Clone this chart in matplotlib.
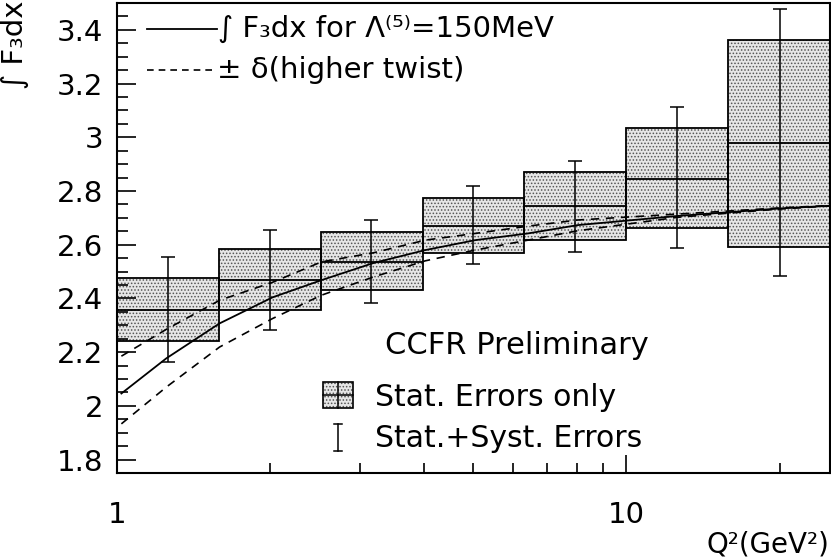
import matplotlib
matplotlib.use("Agg")
import matplotlib.pyplot as plt
import numpy as np
from matplotlib.patches import Rectangle
from matplotlib.ticker import FixedLocator, NullFormatter, FixedFormatter, MultipleLocator

# ---------------- data ----------------
bin_edges = [1.0, 1.585, 2.512, 3.981, 6.310, 10.0, 15.85, 25.12]
bin_centers = [1.26, 2.0, 3.16, 5.0, 7.94, 12.6, 20.0]
f3_value = [2.356, 2.470, 2.534, 2.671, 2.745, 2.845, 2.978]
stat_lo = [2.240, 2.358, 2.430, 2.571, 2.617, 2.661, 2.592]
stat_hi = [2.476, 2.585, 2.649, 2.775, 2.870, 3.034, 3.363]
tot_lo = [2.163, 2.284, 2.383, 2.529, 2.574, 2.586, 2.483]
tot_hi = [2.555, 2.655, 2.692, 2.820, 2.913, 3.112, 3.478]

q_curve = [1.02, 1.25, 1.59, 2.02, 2.52, 3.19, 4.03, 5.05, 6.41, 8.03, 12.6, 20.0, 25.1]
theory = [2.046, 2.177, 2.307, 2.404, 2.468, 2.532, 2.580, 2.617, 2.642, 2.673, 2.707, 2.735, 2.745]
theory_up = [2.185, 2.285, 2.393, 2.460, 2.536, 2.570, 2.617, 2.642, 2.669, 2.692, 2.714, 2.737, 2.746]
theory_dn = [1.933, 2.070, 2.219, 2.325, 2.412, 2.480, 2.540, 2.580, 2.617, 2.652, 2.702, 2.733, 2.744]

x_ticks_major = [1, 10]
x_tick_labels = ["1", "10"]
x_ticks_minor = [2, 3, 4, 5, 6, 7, 8, 9, 20]

# ---------------- plot ----------------
plt.rcParams['font.family'] = ['DejaVu Sans']
plt.rcParams['hatch.linewidth'] = 0.7
fig = plt.figure(figsize=(8.31, 5.60), dpi=100)
ax = fig.add_axes([117/831, 1-473/560, 713/831, 470/560])

edges = np.array(bin_edges)
lefts = edges[:-1]
widths = edges[1:] - edges[:-1]
lo = np.array(stat_lo); hi = np.array(stat_hi)
val = np.array(f3_value)

# stippled fill
ax.bar(lefts, hi - lo, width=widths, bottom=lo, align='edge',
       facecolor='#e6e6e6', edgecolor='#555555', hatch='.....', linewidth=0, zorder=1)
# box outlines
ax.bar(lefts, hi - lo, width=widths, bottom=lo, align='edge',
       facecolor='none', edgecolor='black', linewidth=1.3, zorder=2)
# central values
ax.hlines(val, lefts, edges[1:], colors='black', linewidth=1.3, zorder=3)
# total errors
ax.errorbar(bin_centers, val, yerr=[val - np.array(tot_lo), np.array(tot_hi) - val],
            fmt='none', ecolor='black', elinewidth=1.1, capsize=5, capthick=1.1, zorder=4)

# theory curves
ax.plot(q_curve, theory, color='black', lw=1.3, zorder=5)
ax.plot(q_curve, theory_up, color='black', lw=1.2, ls=(0, (5, 4)), zorder=5)
ax.plot(q_curve, theory_dn, color='black', lw=1.2, ls=(0, (5, 4)), zorder=5)

ax.set_xscale('log')
ax.set_xlim(bin_edges[0], bin_edges[-1])
ax.set_ylim(1.75, 3.5)

ax.xaxis.set_major_locator(FixedLocator(x_ticks_major))
ax.xaxis.set_major_formatter(FixedFormatter(x_tick_labels))
ax.xaxis.set_minor_locator(FixedLocator(x_ticks_minor))
ax.xaxis.set_minor_formatter(NullFormatter())
ax.yaxis.set_minor_locator(MultipleLocator(0.05))
ax.set_yticks([1.8, 2.0, 2.2, 2.4, 2.6, 2.8, 3.0, 3.2, 3.4])
ax.set_yticklabels(["1.8", "2", "2.2", "2.4", "2.6", "2.8", "3", "3.2", "3.4"])

ax.tick_params(axis='both', which='both', direction='in', top=False, right=False,
               labelsize=21, width=1.2)
ax.tick_params(axis='y', which='major', length=14, pad=10)
ax.tick_params(axis='y', which='minor', length=8)
ax.tick_params(axis='x', which='major', length=13, pad=20)
ax.tick_params(axis='x', which='minor', length=7)
for s in ax.spines.values():
    s.set_linewidth(1.5)

# axis labels
fig.text(15/831, 1-45/560, "∫ F₃dx", rotation=90, ha='center', va='center', fontsize=21)
fig.text(829/831, 1-544/560, "Q²(GeV²)", ha='right', va='center', fontsize=20)

# legend (top left)
T = ax.transAxes
ax.plot([0.042, 0.140], [0.945, 0.945], color='black', lw=1.3, transform=T)
ax.text(0.142, 0.945, "∫ F₃dx for Λ⁽⁵⁾=150MeV", transform=T, ha='left', va='center', fontsize=21)
ax.plot([0.042, 0.135], [0.857, 0.857], color='black', lw=1.2, ls=(0, (4, 3)), transform=T)
ax.text(0.140, 0.857, "± δ(higher twist)", transform=T, ha='left', va='center', fontsize=21)

# annotation + lower legend
ax.text(0.376, 0.272, "CCFR Preliminary", transform=T, ha='left', va='center', fontsize=22)
ax.add_patch(Rectangle((0.289, 0.138), 0.042, 0.056, transform=T, facecolor='#e6e6e6',
                       edgecolor='#555555', hatch='.....', linewidth=0))
ax.add_patch(Rectangle((0.289, 0.138), 0.042, 0.056, transform=T, facecolor='none',
                       edgecolor='black', linewidth=1.2))
ax.plot([0.310, 0.310], [0.138, 0.194], color='black', lw=1.1, transform=T)
ax.plot([0.289, 0.331], [0.166, 0.166], color='black', lw=1.1, transform=T)
ax.text(0.362, 0.160, "Stat. Errors only", transform=T, ha='left', va='center', fontsize=21.5)
ax.plot([0.310, 0.310], [0.047, 0.104], color='black', lw=1.1, transform=T)
ax.plot([0.304, 0.316], [0.104, 0.104], color='black', lw=1.1, transform=T)
ax.plot([0.304, 0.316], [0.047, 0.047], color='black', lw=1.1, transform=T)
ax.text(0.362, 0.074, "Stat.+Syst. Errors", transform=T, ha='left', va='center', fontsize=21.5)

fig.savefig("out.png", dpi=100)
